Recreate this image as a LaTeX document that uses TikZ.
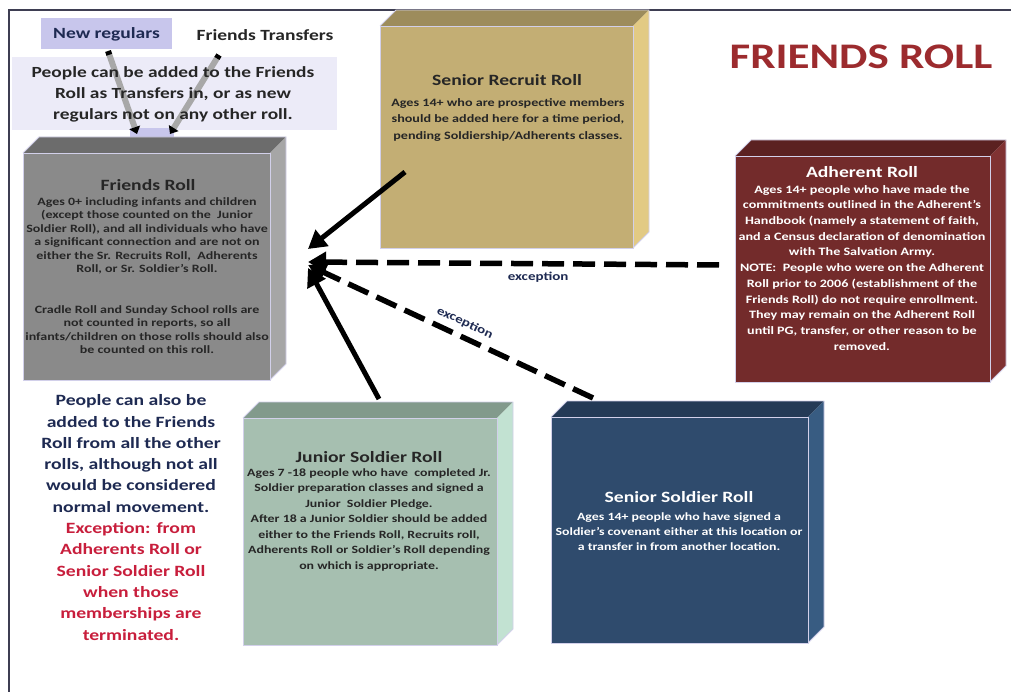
\documentclass[tikz,border=0pt]{standalone}
\usepackage{fontspec}
\setmainfont{Carlito}[FakeStretch=1.25]
\usetikzlibrary{arrows.meta,fit}

\definecolor{framec}{HTML}{3E3E52}
\definecolor{edgec}{HTML}{D2D0EA}
\definecolor{lavdark}{HTML}{C8C6EC}
\definecolor{lavlight}{HTML}{ECEBF8}
\definecolor{navytxt}{HTML}{1E2A52}
\definecolor{redtxt}{HTML}{C81E3C}
\definecolor{titlered}{HTML}{9C2B2E}
\definecolor{shaftgray}{HTML}{A8A8A8}
% roll box colours: front, top, side
\definecolor{frF}{HTML}{8A8A8A}\definecolor{frT}{HTML}{6C6C6C}\definecolor{frS}{HTML}{A6A6A6}
\definecolor{reF}{HTML}{C3AE74}\definecolor{reT}{HTML}{9D8C5C}\definecolor{reS}{HTML}{E2CA84}
\definecolor{adF}{HTML}{732B2B}\definecolor{adT}{HTML}{5B2121}\definecolor{adS}{HTML}{803232}
\definecolor{jsF}{HTML}{A6BFB0}\definecolor{jsT}{HTML}{829A8C}\definecolor{jsS}{HTML}{C2E2D2}
\definecolor{ssF}{HTML}{2F4B6D}\definecolor{ssT}{HTML}{243A56}\definecolor{ssS}{HTML}{385C82}

% #1 name, #2 x1, #3 y1, #4 x2, #5 y2 (front face), #6 front, #7 top, #8 side
\newcommand\drawroll[8]{%
  \fill[#7] (#2,#3) -- ({#2+16},{#3-16}) -- ({#4+16},{#3-16}) -- (#4,#3) -- cycle;
  \fill[#8] (#4,#3) -- ({#4+16},{#3-16}) -- ({#4+16},{#5-16}) -- (#4,#5) -- cycle;
  \draw[edgec,line width=0.8pt] (#2,#3) -- ({#2+16},{#3-16}) -- ({#4+16},{#3-16}) -- ({#4+16},{#5-16}) -- (#4,#5);
  \coordinate (#1-nw) at (#2,#3);
  \coordinate (#1-se) at (#4,#5);
  \node[fit=(#1-nw)(#1-se),inner sep=0pt,outer sep=0pt,fill=#6,draw=edgec,line width=0.8pt] (#1) {};
}

\tikzset{
  rolltitle/.style={font=\fontsize{15.7}{18}\selectfont\bfseries,inner sep=0pt},
  rolltext/.style={align=center,inner sep=0pt,anchor=north},
  solidarrow/.style={line width=5pt,-{Triangle[length=18pt,width=20pt]}},
  dasharrow/.style={line width=5.5pt,dash pattern=on 22pt off 9pt,-{Triangle[length=18pt,width=20pt]}},
  feedarrow/.style={shaftgray,line width=6pt,{Square[black,length=4pt,width=6pt]}-{Triangle[black,length=7pt,width=11pt]}},
  notelabel/.style={font=\fontsize{12}{14}\selectfont\bfseries,text=navytxt,inner sep=1pt},
}

\begin{document}
\begin{tikzpicture}[x=1pt,y=-1pt]
\useasboundingbox (0,0) rectangle (1011,692);
\fill[white] (0,0) rectangle (1011,692);

% page frame
\draw[framec,line width=2pt] (9,692) -- (9,10) -- (1011,10);

% heading
\node[font=\fontsize{36}{42}\selectfont\bfseries,text=titlered] (heading) at (861,57) {FRIENDS ROLL};

% entry points at the top left
\node[fill=lavdark,minimum width=131pt,minimum height=31pt,inner sep=0pt,
      font=\fontsize{15.6}{18}\selectfont\bfseries,text=navytxt] (newreg) at (106.5,34) {New regulars};
\node[font=\fontsize{15.6}{18}\selectfont\bfseries,text=black!85] (transf) at (265,35) {Friends Transfers};
\node[fill=lavlight,minimum width=325pt,minimum height=73pt,inner sep=0pt] (introbox) at (174.5,93.5) {};
\fill[lavdark] (130,128) rectangle (174,137);

% feeds into the Friends Roll (behind the intro text)
\coordinate (nr-out) at (108,51);
\coordinate (ft-out) at (219,55);
\coordinate (fr-in1) at (137,134);
\coordinate (fr-in2) at (170,134);
\draw[feedarrow] (nr-out) -- (fr-in1);
\draw[feedarrow] (ft-out) -- (fr-in2);

\node[align=center,font=\fontsize{15.5}{21}\selectfont\bfseries,text=black!85] (introtext) at (173,94)
  {People can be added to the Friends\\Roll as Transfers in, or as new\\regulars not on any other roll.};

% roll boxes
\drawroll{friends}{23}{153}{270}{380}{frF}{frT}{frS}
\drawroll{recruit}{380}{26}{633}{248}{reF}{reT}{reS}
\drawroll{adherent}{735}{156}{990}{382}{adF}{adT}{adS}
\drawroll{junior}{243}{418}{497}{645}{jsF}{jsT}{jsS}
\drawroll{soldier}{551}{417}{808}{643}{ssF}{ssT}{ssS}

% box texts
\node[rolltitle,text=black!85] (friends-title) at (148,185) {Friends Roll};
\node[rolltext,text=black!85,font=\fontsize{11.2}{13.4}\selectfont\bfseries] (friends-text) at (147,197.5)
  {Ages 0+ including infants and children\\(except those counted on the \ Junior\\Soldier Roll), and all individuals who have\\a significant connection and are not on\\either the Sr. Recruits Roll, \ Adherents\\Roll, or Sr. Soldier's Roll.\\[27.5pt]Cradle Roll and Sunday School rolls are\\not counted in reports, so all\\infants/children on those rolls should also\\be counted on this roll.};

\node[rolltitle,text=black!85] (recruit-title) at (507,80) {Senior Recruit Roll};
\node[rolltext,text=black!85,font=\fontsize{11.3}{16.3}\selectfont\bfseries] (recruit-text) at (508,98.5)
  {Ages 14+ who are prospective members\\should be added here for a time period,\\pending Soldiership/Adherents classes.};

\node[rolltitle,text=white] (adherent-title) at (862,172) {Adherent Roll};
\node[rolltext,text=white,font=\fontsize{11.3}{15.7}\selectfont\bfseries] (adherent-text) at (862,185)
  {Ages 14+ people who have made the\\commitments outlined in the Adherent's\\Handbook (namely a statement of faith,\\and a Census declaration of denomination\\with The Salvation Army.\\NOTE: \ People who were on the Adherent\\Roll prior to 2006 (establishment of the\\Friends Roll) do not require enrollment.\\They may remain on the Adherent Roll\\until PG, transfer, or other reason to be\\removed.};

\node[rolltitle,text=black!85] (junior-title) at (369,457) {Junior Soldier Roll};
\node[rolltext,text=black!85,font=\fontsize{11.1}{15.5}\selectfont\bfseries] (junior-text) at (369,468.5)
  {Ages 7 -18 people who have \ completed Jr.\\Soldier preparation classes and signed a\\Junior \ Soldier Pledge.\\After 18 a Junior Soldier should be added\\either to the Friends Roll, Recruits roll,\\Adherents Roll or Soldier's Roll depending\\on which is appropriate.};

\node[rolltitle,text=white] (soldier-title) at (679,497) {Senior Soldier Roll};
\node[rolltext,text=white,font=\fontsize{11.1}{14.8}\selectfont\bfseries] (soldier-text) at (679,513)
  {Ages 14+ people who have signed a\\Soldier's covenant either at this location or\\a transfer in from another location.};

% side note
\node[align=center,inner sep=0pt,anchor=north,font=\fontsize{15.7}{21.3}\selectfont\bfseries,text=navytxt] (sidenote) at (131,394.5)
  {People can also be\\added to the Friends\\Roll from all the other\\rolls, although not all\\would be considered\\normal movement.\\\textcolor{redtxt}{Exception: from}\\\textcolor{redtxt}{Adherents Roll or}\\\textcolor{redtxt}{Senior Soldier Roll}\\\textcolor{redtxt}{when those}\\\textcolor{redtxt}{memberships are}\\\textcolor{redtxt}{terminated.}};

% connector end points
\coordinate (re-out) at (405,172);
\coordinate (ad-out) at (719,265);
\coordinate (ss-out) at (593,398);
\coordinate (js-out) at (379,399);
\coordinate (hub1) at (308,249);
\coordinate (hub2) at (308,262);
\coordinate (hub3) at (308,265);
\coordinate (hub4) at (308,268);

% connectors into the Friends Roll
\draw[solidarrow] (re-out) -- (hub1);
\draw[dasharrow] (ad-out) -- node[notelabel,below=5pt,pos=0.44] (exc1) {exception} (hub2);
\draw[dasharrow] (ss-out) -- node[notelabel,sloped,above=5pt,pos=0.47] (exc2) {exception} (hub3);
\draw[solidarrow] (js-out) -- (hub4);
\end{tikzpicture}
\end{document}
